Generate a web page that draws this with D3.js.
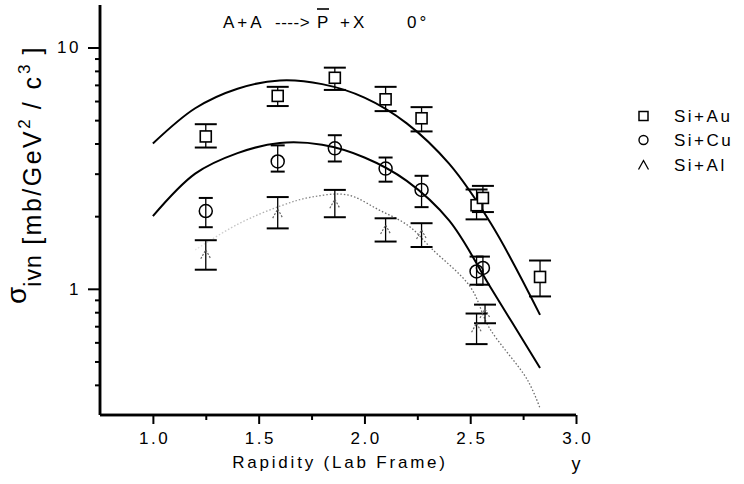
<!DOCTYPE html>
<html>
<head>
<meta charset="utf-8">
<script src="https://cdn.jsdelivr.net/npm/d3@7"></script>
<style>
  html, body { margin: 0; padding: 0; background: #fff; }
  svg { display: block; font-family: "Liberation Sans", Arial, sans-serif; }
</style>
</head>
<body>
<svg id="chart" width="744" height="484"></svg>
<script>
// Measured points: rapidity, cross section, error range
const auX   = [1.25, 1.59, 1.86, 2.10, 2.27, 2.53, 2.56, 2.83];
const auY   = [4.28, 6.30, 7.49, 6.10, 5.09, 2.22, 2.38, 1.12];
const auLo  = [3.85, 5.72, 6.67, 5.45, 4.49, 1.94, 2.08, 0.93];
const auHi  = [4.81, 6.87, 8.25, 6.87, 5.66, 2.58, 2.67, 1.31];

const cuX   = [1.25, 1.59, 1.86, 2.10, 2.27, 2.53, 2.56];
const cuY   = [2.10, 3.37, 3.82, 3.15, 2.57, 1.18, 1.22];
const cuLo  = [1.80, 3.06, 3.37, 2.78, 2.18, 1.04, 1.04];
const cuHi  = [2.38, 3.93, 4.33, 3.50, 2.94, 1.36, 1.36];

const alX   = [1.25, 1.59, 1.86, 2.10, 2.27, 2.53, 2.57];
const alY   = [1.39, 2.05, 2.25, 1.76, 1.68, 0.69, 0.79];
const alLo  = [1.20, 1.78, 1.98, 1.57, 1.49, 0.59, 0.72];
const alHi  = [1.59, 2.40, 2.57, 1.96, 1.87, 0.79, 0.86];

// Model curves
const auCurveX = [1.00, 1.20, 1.40, 1.60, 1.80, 2.00, 2.20, 2.40, 2.60, 2.83];
const auCurveY = [4.00, 5.60, 6.75, 7.30, 7.05, 6.20, 4.85, 3.30, 1.85, 0.78];
const cuCurveX = [1.00, 1.20, 1.40, 1.60, 1.80, 2.00, 2.20, 2.40, 2.60, 2.83];
const cuCurveY = [2.00, 3.00, 3.65, 4.02, 3.95, 3.50, 2.80, 1.92, 1.00, 0.47];
const alCurveX = [1.20, 1.40, 1.60, 1.75, 1.92, 2.07, 2.21, 2.32, 2.50, 2.59, 2.77, 2.83];
const alCurveY = [1.45, 1.85, 2.20, 2.40, 2.45, 2.12, 1.82, 1.46, 1.02, 0.69, 0.42, 0.32];

const xMajor = [1.0, 1.5, 2.0, 2.5, 3.0];
const xMinor = [1.25, 1.75, 2.25, 2.75];
const yMajor = [1, 10];
const yMinor = [0.4, 0.5, 0.6, 0.7, 0.8, 0.9, 2, 3, 4, 5, 6, 7, 8, 9];

const svg = d3.select("#chart");
const m = { left: 100, top: 5, right: 168, bottom: 69 };
const W = 744 - m.left - m.right, H = 484 - m.top - m.bottom;

const x = d3.scaleLinear().domain([0.75, 3.0]).range([m.left, m.left + W]);
const y = d3.scaleLog().domain([0.3, 15]).range([m.top + H, m.top]);

const font = "Liberation Sans, Arial, sans-serif";

// axes
const gx = svg.append("g").attr("transform", `translate(0,${m.top + H})`)
  .call(d3.axisBottom(x).tickValues(xMinor).tickSize(5).tickFormat(""));
const gxMaj = svg.append("g").attr("transform", `translate(0,${m.top + H})`)
  .call(d3.axisBottom(x).tickValues(xMajor).tickSize(9).tickPadding(8).tickFormat(d3.format(".1f")));
const gy = svg.append("g").attr("transform", `translate(${m.left},0)`)
  .call(d3.axisLeft(y).tickValues(yMinor).tickSize(5).tickFormat(""));
const gyMaj = svg.append("g").attr("transform", `translate(${m.left},0)`)
  .call(d3.axisLeft(y).tickValues(yMajor).tickSize(12).tickPadding(7).tickFormat(d3.format("d")));

svg.selectAll(".domain").attr("stroke", "#000").attr("stroke-width", 2.5);
svg.selectAll(".tick line").attr("stroke", "#000").attr("stroke-width", 2);
[gx, gxMaj].forEach(g => g.select(".domain").attr("d", `M${m.left},0H${m.left + W}`));
[gy, gyMaj].forEach(g => g.select(".domain").attr("d", `M0,${m.top}V${m.top + H}`));
svg.selectAll(".tick text").attr("fill", "#000").attr("font-size", 17)
  .attr("font-family", font).style("letter-spacing", "2.5px");
gxMaj.selectAll(".tick text").attr("dx", "1.2px");

// curves
const line = d3.line().x(d => x(d[0])).y(d => y(d[1])).curve(d3.curveCatmullRom.alpha(0.5));
svg.append("path").datum(d3.zip(auCurveX, auCurveY)).attr("d", line)
  .attr("fill", "none").attr("stroke", "#000").attr("stroke-width", 2);
svg.append("path").datum(d3.zip(cuCurveX, cuCurveY)).attr("d", line)
  .attr("fill", "none").attr("stroke", "#000").attr("stroke-width", 2);

// the Al curve fades out towards low rapidity
const grad = svg.append("defs").append("linearGradient").attr("id", "alFade")
  .attr("gradientUnits", "userSpaceOnUse")
  .attr("x1", x(1.2)).attr("x2", x(1.95)).attr("y1", 0).attr("y2", 0);
grad.append("stop").attr("offset", 0).attr("stop-color", "#e2e2e2");
grad.append("stop").attr("offset", 1).attr("stop-color", "#6a6a6a");
svg.append("path").datum(d3.zip(alCurveX, alCurveY)).attr("d", line)
  .attr("fill", "none").attr("stroke", "url(#alFade)").attr("stroke-width", 1.3)
  .attr("stroke-dasharray", "1.5,2");

// error bars
function errorBars(xs, lo, hi, cap) {
  const g = svg.append("g");
  xs.forEach((v, i) => {
    const cx = x(v);
    g.append("line").attr("x1", cx).attr("x2", cx).attr("y1", y(lo[i])).attr("y2", y(hi[i]))
      .attr("stroke", "#000").attr("stroke-width", 1.3);
    [lo[i], hi[i]].forEach(e => {
      g.append("line").attr("x1", cx - cap).attr("x2", cx + cap).attr("y1", y(e)).attr("y2", y(e))
        .attr("stroke", "#000").attr("stroke-width", 2);
    });
  });
}
errorBars(auX, auLo, auHi, 11);
errorBars(cuX, cuLo, cuHi, 7);
errorBars(alX, alLo, alHi, 11);

// markers
const sq = 11;
svg.append("g").selectAll("rect").data(d3.zip(auX, auY)).join("rect")
  .attr("x", d => x(d[0]) - sq / 2).attr("y", d => y(d[1]) - sq / 2)
  .attr("width", sq).attr("height", sq)
  .attr("fill", "#fff").attr("stroke", "#000").attr("stroke-width", 1.6);
svg.append("g").selectAll("circle").data(d3.zip(cuX, cuY)).join("circle")
  .attr("cx", d => x(d[0])).attr("cy", d => y(d[1])).attr("r", 6.5)
  .attr("fill", "none").attr("stroke", "#000").attr("stroke-width", 1.5);
const chevron = (cx, cy, s) => `M${cx - s},${cy + s * 0.9}L${cx},${cy - s * 0.9}L${cx + s},${cy + s * 0.9}`;
svg.append("g").selectAll("path").data(d3.zip(alX, alY)).join("path")
  .attr("d", d => chevron(x(d[0]), y(d[1]), 5))
  .attr("fill", "none").attr("stroke", "#666").attr("stroke-width", 1.2)
  .attr("stroke-dasharray", "2,1.5");

// title
const titleParts = [["A+A", 223], ["---->", 275], ["P", 317], ["+X", 340], ["0°", 407]];
titleParts.forEach(([s, px]) => {
  svg.append("text").attr("x", px).attr("y", 28).attr("font-size", 17)
    .style("letter-spacing", s === "---->" ? "0.5px" : "3px").attr("fill", "#000").text(s);
});
svg.append("line").attr("x1", 317).attr("x2", 329).attr("y1", 9).attr("y2", 9)
  .attr("stroke", "#000").attr("stroke-width", 1.6);

// axis titles
svg.append("text").attr("x", 340).attr("y", 468).attr("text-anchor", "middle")
  .attr("font-size", 17).style("letter-spacing", "2.8px").attr("fill", "#000")
  .text("Rapidity (Lab Frame)");
svg.append("text").attr("x", 576).attr("y", 470).attr("text-anchor", "middle")
  .attr("font-size", 18).attr("fill", "#000").text("y");

const yt = svg.append("text").attr("transform", "translate(26,304) rotate(-90)")
  .attr("font-size", 28).attr("fill", "#000");
yt.append("tspan").text("σ");
yt.append("tspan").attr("font-size", 23).attr("dy", 15).style("letter-spacing", "1px").text("ivn");
yt.append("tspan").attr("font-size", 25).style("letter-spacing", "2.5px").text(" [mb/GeV");
yt.append("tspan").attr("font-size", 17).attr("dy", -11).text("2");
yt.append("tspan").attr("font-size", 25).attr("dy", 11).style("letter-spacing", "3px").text(" / c");
yt.append("tspan").attr("font-size", 17).attr("dy", -11).text("3");
yt.append("tspan").attr("font-size", 25).attr("dy", 11).style("letter-spacing", "3px").text("  ]");

// legend
const legendNames = ["Si+Au", "Si+Cu", "Si+Al"];
const legendY = [116, 140, 165];
const lg = svg.append("g");
lg.append("rect").attr("x", 639).attr("y", legendY[0] - 4.5).attr("width", 9).attr("height", 9)
  .attr("fill", "none").attr("stroke", "#000").attr("stroke-width", 1.5);
lg.append("circle").attr("cx", 643.5).attr("cy", legendY[1]).attr("r", 4.5)
  .attr("fill", "none").attr("stroke", "#000").attr("stroke-width", 1.4);
lg.append("path").attr("d", chevron(643.5, legendY[2], 5))
  .attr("fill", "none").attr("stroke", "#000").attr("stroke-width", 1.3);
legendNames.forEach((n, i) => {
  lg.append("text").attr("x", 674).attr("y", legendY[i] + 6).attr("font-size", 17)
    .style("letter-spacing", "2.5px").attr("fill", "#000").text(n);
});
</script>
</body>
</html>
